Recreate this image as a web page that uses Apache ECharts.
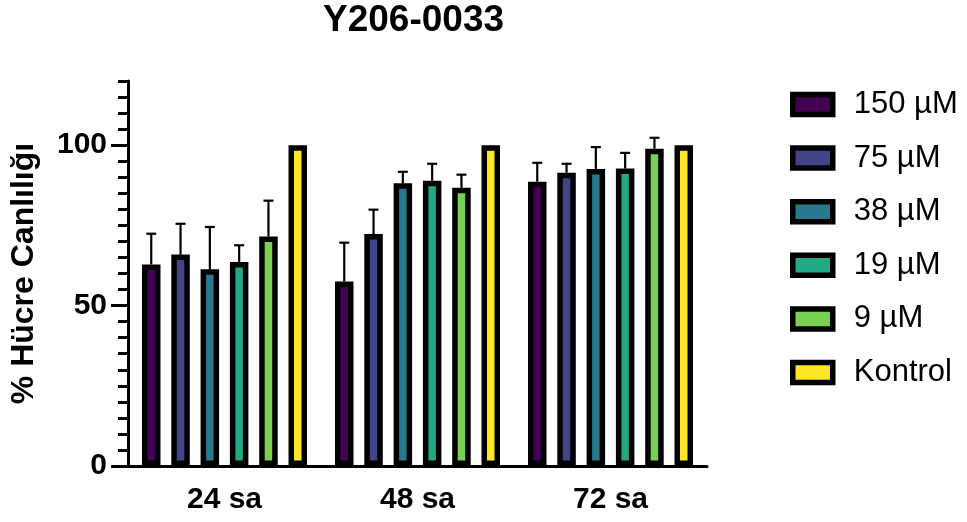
<!DOCTYPE html>
<html>
<head>
<meta charset="utf-8">
<script src="https://cdn.jsdelivr.net/npm/echarts@6/dist/echarts.min.js"></script>
<style>
html,body{margin:0;padding:0;background:#fff;}
#chart{width:967px;height:522px;}
</style>
</head>
<body>
<div id="chart"></div>
<script>
const chartTitle = 'Y206-0033';
const yAxisName = '% Hücre Canlılığı';
const categories = ['24 sa', '48 sa', '72 sa'];
const seriesNames = ['150 µM', '75 µM', '38 µM', '19 µM', '9 µM', 'Kontrol'];
const seriesColors = ['#440154', '#414487', '#2A788E', '#22A884', '#7AD151', '#FDE725'];
const yTickLabels = [0, 50, 100];

const mean150 = [62.8, 57.5, 88.6];
const mean75 = [65.9, 72.3, 91.4];
const mean38 = [61.3, 88.1, 92.6];
const mean19 = [63.6, 88.9, 92.7];
const mean9 = [71.5, 86.7, 98.9];
const meanKontrol = [100, 100, 100];

const err150 = [9.6, 12.1, 5.9];
const err75 = [9.6, 7.6, 2.8];
const err38 = [13.2, 3.6, 6.8];
const err19 = [5.2, 5.3, 4.9];
const err9 = [11.2, 4.1, 3.4];
const errKontrol = [0, 0, 0];

const means = [mean150, mean75, mean38, mean19, mean9, meanKontrol];
const errs = [err150, err75, err38, err19, err9, errKontrol];

const FONT = 'Liberation Sans, Arial, Helvetica, sans-serif';
const BAR_W = 18.5;
const BAR_GAP = 0.584;
const BORDER = 5.5;

const chart = echarts.init(document.getElementById('chart'), null, {renderer: 'canvas'});

const barSeries = seriesNames.map((name, i) => ({
  name: name,
  type: 'bar',
  xAxisIndex: 0,
  yAxisIndex: 0,
  barWidth: BAR_W,
  barGap: (BAR_GAP * 100) + '%',
  z: 3,
  itemStyle: {color: seriesColors[i], borderColor: '#000', borderWidth: BORDER},
  emphasis: {disabled: true},
  data: means[i]
}));

const errSeries = seriesNames.map((name, i) => ({
  name: name + ' err',
  type: 'custom',
  xAxisIndex: 0,
  yAxisIndex: 0,
  z: 2,
  silent: true,
  data: categories.map((c, k) => [k, means[i][k], means[i][k] + errs[i][k]]),
  renderItem: function (params, api) {
    const offset = (i - (seriesNames.length - 1) / 2) * BAR_W * (1 + BAR_GAP);
    const p0 = api.coord([api.value(0), api.value(1)]);
    const p1 = api.coord([api.value(0), api.value(2)]);
    const x = p0[0] + offset;
    if (api.value(2) <= api.value(1)) return null;
    const st = {stroke: '#000', lineWidth: 2.2};
    return {
      type: 'group',
      children: [
        {type: 'line', shape: {x1: x, y1: p0[1], x2: x, y2: p1[1]}, style: st},
        {type: 'line', shape: {x1: x - 5, y1: p1[1], x2: x + 5, y2: p1[1]}, style: st}
      ]
    };
  }
}));

const option = {
  backgroundColor: '#fff',
  animation: false,
  title: {
    text: chartTitle,
    left: 323,
    top: 2,
    padding: 0,
    textStyle: {fontFamily: FONT, fontSize: 37, fontWeight: 'bold', color: '#000'}
  },
  legend: {
    orient: 'vertical',
    left: 790,
    top: 89,
    padding: 0,
    itemGap: 22.6,
    itemWidth: 40,
    itemHeight: 20,
    icon: 'rect',
    data: seriesNames,
    itemStyle: {borderColor: '#000', borderWidth: 5.5},
    textStyle: {fontFamily: FONT, fontSize: 31, color: '#000', lineHeight: 30, padding: [0, 0, 0, 16]}
  },
  grid: {left: 122, top: 81, width: 585, height: 385, containLabel: false},
  xAxis: {
    type: 'category',
    data: categories,
    axisLine: {lineStyle: {color: '#000', width: 3}},
    axisTick: {alignWithLabel: true, length: 16, lineStyle: {color: '#000', width: 3}},
    axisLabel: {fontFamily: FONT, fontSize: 30, fontWeight: 'bold', color: '#000', margin: 19},
    splitLine: {show: false}
  },
  yAxis: [
    {
      type: 'value',
      min: 0,
      max: 120,
      interval: 5,
      name: yAxisName,
      nameLocation: 'middle',
      nameGap: 88,
      nameTextStyle: {fontFamily: FONT, fontSize: 32, fontWeight: 'bold', color: '#000'},
      axisLine: {show: true, lineStyle: {color: '#000', width: 3}},
      axisTick: {show: true, length: 10, lineStyle: {color: '#000', width: 3}},
      axisLabel: {
        customValues: yTickLabels,
        fontFamily: FONT, fontSize: 30, fontWeight: 'bold', color: '#000', margin: 21
      },
      splitLine: {show: false}
    },
    {
      type: 'value',
      min: 0,
      max: 120,
      position: 'left',
      offset: 0,
      axisLine: {show: false},
      axisTick: {show: true, customValues: yTickLabels, length: 17, lineStyle: {color: '#000', width: 3}},
      axisLabel: {show: false},
      splitLine: {show: false}
    }
  ],
  series: errSeries.concat(barSeries)
};

chart.setOption(option);
</script>
</body>
</html>
